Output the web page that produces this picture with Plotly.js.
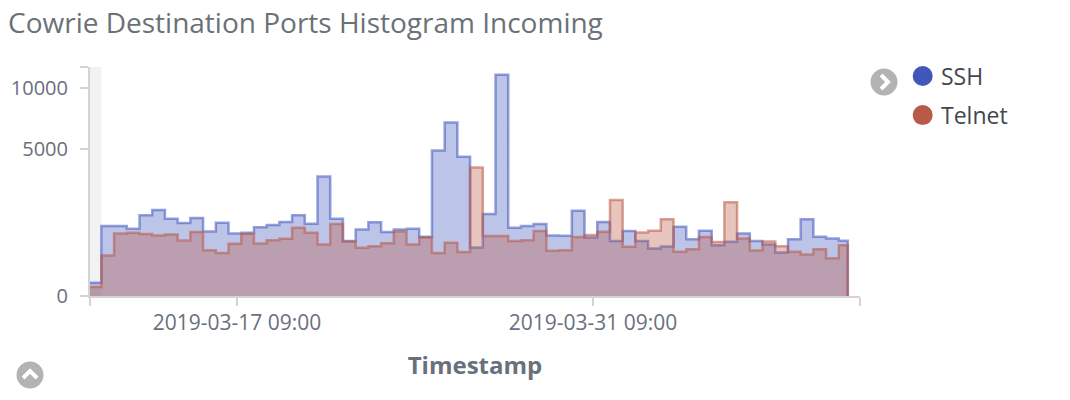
<!DOCTYPE html>
<html>
<head>
<meta charset="utf-8">
<script src="https://cdn.plot.ly/plotly-3.0.1.min.js"></script>
<style>
  html, body { margin: 0; padding: 0; background: #fff; }
  #myDiv { width: 1070px; height: 400px; }
</style>
</head>
<body>
<div id="myDiv"></div>
<script>
// 12 hour buckets, first one starts before the visible range
var bucketStart = Date.UTC(2019, 2, 11, 13, 0);
var bucketMs = 12 * 3600 * 1000;
var dataEnd = Date.UTC(2019, 3, 10, 9, 30);   // last bucket is partial
var rangeStart = Date.UTC(2019, 2, 11, 14, 16);
var rangeEnd = Date.UTC(2019, 3, 10, 21, 0);

var sshCounts = [40, 1128, 1130, 1043, 1500, 1706, 1377, 1227, 1402, 963,
  1238, 904, 922, 1087, 1161, 1261, 1500, 1204, 3289, 1377,
  695, 1024, 1251, 942, 1024, 1043, 808, 4883, 6951, 4467,
  544, 1550, 11283, 1074, 1128, 1194, 847, 836, 1678, 792,
  1261, 695, 972, 695, 522, 565, 1106, 746, 981, 597,
  677, 904, 695, 614, 437, 746, 1356, 808, 765, 703];

var telnetCounts = [19, 380, 904, 922, 884, 847, 876, 713, 942, 485,
  429, 628, 884, 637, 720, 755, 1074, 922, 614, 1194,
  687, 535, 573, 645, 963, 614, 792, 429, 652, 447,
  3805, 828, 834, 695, 720, 972, 470, 485, 800, 856,
  951, 2127, 558, 934, 981, 1360, 450, 506, 800, 670,
  2026, 765, 478, 687, 573, 450, 398, 506, 330, 597];

var yTicks = [0, 5000, 10000];
var yMax = 12100;
var xTicks = [Date.UTC(2019, 2, 17, 9, 0), Date.UTC(2019, 2, 31, 9, 0)];
var xTickText = ['2019-03-17 09:00', '2019-03-31 09:00'];

var bucketTimes = sshCounts.map(function (v, i) { return bucketStart + i * bucketMs; });

// y axis is a square root scale, plot sqrt(count)
function stepTrace(name, counts, line, fill) {
  var last = counts[counts.length - 1];
  return {
    name: name,
    x: bucketTimes.concat([dataEnd, dataEnd]),
    y: counts.map(Math.sqrt).concat([Math.sqrt(last), 0]),
    customdata: counts.concat([last, 0]),
    type: 'scatter',
    mode: 'lines',
    line: { shape: 'hv', color: line, width: 2.5 },
    fill: 'tozeroy',
    fillcolor: fill,
    hovertemplate: '%{x}<br>' + name + ': %{customdata}<extra></extra>',
    showlegend: false
  };
}

var data = [
  stepTrace('SSH', sshCounts, 'rgba(64,85,190,0.55)', 'rgba(64,85,190,0.35)'),
  stepTrace('Telnet', telnetCounts, 'rgba(185,88,70,0.55)', 'rgba(185,88,70,0.35)')
];

var axisGrey = '#d4d4d4';
var textGrey = '#69707d';

function dot(px, py, color) {
  return { type: 'circle', xref: 'paper', yref: 'paper', xsizemode: 'pixel', ysizemode: 'pixel',
    xanchor: px, yanchor: py, x0: -10, x1: 10, y0: -10, y1: 10,
    fillcolor: color, line: { width: 0 } };
}
function iconCircle(px, py) {
  return { type: 'circle', xref: 'paper', yref: 'paper', xsizemode: 'pixel', ysizemode: 'pixel',
    xanchor: px, yanchor: py, x0: -13.5, x1: 13.5, y0: -13.5, y1: 13.5,
    fillcolor: '#b3b3b3', line: { width: 0 } };
}
function chevron(px, py, path) {
  return { type: 'path', xref: 'paper', yref: 'paper', xsizemode: 'pixel', ysizemode: 'pixel',
    xanchor: px, yanchor: py, path: path, line: { color: '#fff', width: 4 } };
}

var layout = {
  width: 1070,
  height: 400,
  margin: { l: 90, r: 210, t: 67, b: 104 },
  paper_bgcolor: '#fff',
  plot_bgcolor: '#fff',
  font: { family: 'Open Sans, sans-serif', color: textGrey },
  title: {
    text: 'Cowrie Destination Ports Histogram Incoming',
    font: { size: 28, color: '#6a7177' },
    xref: 'container', x: 0.0075, xanchor: 'left',
    yref: 'container', y: 0.942, yanchor: 'middle'
  },
  showlegend: false,
  hovermode: 'x',
  xaxis: {
    type: 'date',
    range: [rangeStart, rangeEnd],
    tickvals: [rangeStart].concat(xTicks, [rangeEnd]),
    ticktext: [''].concat(xTickText, ['']),
    ticks: 'outside', ticklen: 8, tickwidth: 2, tickcolor: axisGrey,
    showline: true, linecolor: axisGrey, linewidth: 2,
    showgrid: false, zeroline: false,
    tickfont: { size: 21, color: textGrey },
    ticklabelstandoff: -1,
    title: { text: '<b>Timestamp</b>', font: { size: 24, color: textGrey }, standoff: 22 }
  },
  yaxis: {
    range: [0, Math.sqrt(yMax)],
    tickvals: yTicks.map(Math.sqrt).concat([Math.sqrt(yMax)]),
    ticktext: yTicks.map(String).concat(['']),
    ticks: 'outside', ticklen: 8, tickwidth: 2, tickcolor: axisGrey,
    showline: true, linecolor: axisGrey, linewidth: 2,
    showgrid: false, zeroline: false,
    tickfont: { size: 20, color: textGrey },
    ticklabelstandoff: 8
  },
  shapes: [
    // partial bucket band
    { type: 'rect', xref: 'x', yref: 'paper', x0: rangeStart, x1: bucketStart + bucketMs,
      y0: 0, y1: 1, fillcolor: '#f2f2f2', line: { width: 0 }, layer: 'below' },
    dot(1.0814, 0.9607, '#4156bb'),
    dot(1.0814, 0.790, '#b95a48'),
    iconCircle(1.0312, 0.9345),
    chevron(1.0312, 0.9345, 'M -3,7 L 4,0 L -3,-7'),
    iconCircle(-0.0779, -0.345),
    chevron(-0.0779, -0.345, 'M -7,-3 L 0,4 L 7,-3')
  ],
  annotations: [
    { text: 'SSH', xref: 'paper', yref: 'paper', x: 1.1026, y: 0.9607, xanchor: 'left', yanchor: 'middle',
      showarrow: false, font: { size: 23, color: '#44474c' } },
    { text: 'Telnet', xref: 'paper', yref: 'paper', x: 1.1026, y: 0.790, xanchor: 'left', yanchor: 'middle',
      showarrow: false, font: { size: 23, color: '#44474c' } }
  ]
};

Plotly.newPlot('myDiv', data, layout, { displayModeBar: false, responsive: false });
</script>
</body>
</html>
